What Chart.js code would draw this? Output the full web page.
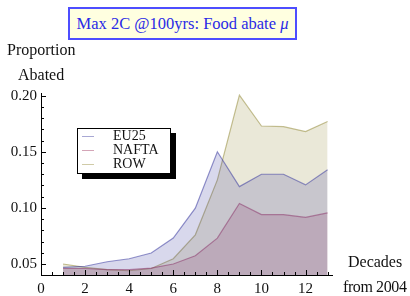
<!DOCTYPE html>
<html>
<head>
<meta charset="utf-8">
<script src="https://cdn.jsdelivr.net/npm/chart.js@4"></script>
<style>
  body { margin: 0; background: #fff; }
  #wrap { position: relative; width: 410px; height: 296px; font-family: "Liberation Serif", serif; color: #111; }
  #titre { position: absolute; left: 68px; top: 7px; width: 225px; height: 29px; border: 2px solid #4d4dff;
           background: #ffffe0; color: #2a2ae6; font-size: 16.5px; line-height: 29px; text-align: center; }
  .lab { position: absolute; font-size: 16px; line-height: 18px; white-space: nowrap; }
  #legende { position: absolute; left: 77px; top: 128px; width: 92px; height: 44px; border: 1px solid #000;
             background: #fff; box-shadow: 5px 5px 0 #000; font-size: 14px; }
  #legende div { position: relative; height: 14px; line-height: 14px; padding-left: 35px; }
  #legende span { position: absolute; left: 4px; top: 7px; width: 12px; height: 1px; }
</style>
</head>
<body>
<div id="wrap">
  <canvas id="graphe" width="410" height="296"></canvas>
  <div id="titre">Max 2C @100yrs: Food abate <i>μ</i></div>
  <div class="lab" style="left:7px;top:41px;">Proportion</div>
  <div class="lab" style="left:18px;top:66px;">Abated</div>
  <div class="lab" style="left:348px;top:253px;">Decades</div>
  <div class="lab" style="left:343px;top:278px;letter-spacing:-0.4px;">from 2004</div>
  <div id="legende"></div>
</div>
<script>
"use strict";
var decennies = [1, 2, 3, 4, 5, 6, 7, 8, 9, 10, 11, 12, 13];
var eu25  = [0.047, 0.048, 0.052, 0.0547, 0.0598, 0.0731, 0.0998, 0.150, 0.119, 0.130, 0.130, 0.1205, 0.134];
var nafta = [0.046, 0.046, 0.045, 0.045, 0.0464, 0.050, 0.0574, 0.073, 0.104, 0.094, 0.094, 0.0915, 0.0955];
var row   = [0.050, 0.047, 0.045, 0.044, 0.046, 0.0547, 0.076, 0.125, 0.2005, 0.173, 0.1724, 0.168, 0.177];
var noms = ["EU25", "NAFTA", "ROW"];
var xTicks = [0, 2, 4, 6, 8, 10, 12];
var yTicks = [0.05, 0.10, 0.15, 0.20];

var couleurs = [[61, 61, 160], [160, 55, 95], [150, 140, 60]];
var series = [eu25, nafta, row];

function rgba(c, a) {
    return 'rgba(' + c[0] + ',' + c[1] + ',' + c[2] + ',' + a + ')';
}

var datasets = [];
for (var i = 0; i < series.length; i++) {
    var pts = [];
    for (var j = 0; j < decennies.length; j++) {
        pts.push({x: decennies[j], y: series[i][j]});
    }
    datasets.push({
        label: noms[i],
        data: pts,
        borderColor: rgba(couleurs[i], 0.55),
        backgroundColor: rgba(couleurs[i], 0.2),
        borderWidth: 1.2,
        pointRadius: 0,
        fill: 'start',
        tension: 0
    });
}

// legende en html
var leg = document.getElementById("legende");
for (var k = 0; k < noms.length; k++) {
    var ligne = document.createElement("div");
    ligne.innerHTML = '<span style="background:' + rgba(couleurs[k], 0.45) + '"></span>' + noms[k];
    leg.appendChild(ligne);
}

// petites graduations vers l'interieur, facon Mathematica
var graduations = {
    id: 'graduations',
    afterDraw: function (chart) {
        var ctx = chart.ctx;
        var xs = chart.scales.x, ys = chart.scales.y;
        var x0 = xs.getPixelForValue(0), yb = ys.bottom;
        ctx.save();
        ctx.strokeStyle = '#000';
        ctx.lineWidth = 1;
        ctx.beginPath();
        for (var v = 0.5; v <= 13.01; v += 0.5) {
            var px = Math.round(xs.getPixelForValue(v)) + 0.5;
            var len = (Math.abs(v % 2) < 0.01) ? 5 : 3;
            ctx.moveTo(px, yb);
            ctx.lineTo(px, yb - len);
        }
        for (var w = 5; w <= 20; w++) {
            var py = Math.round(ys.getPixelForValue(w / 100)) + 0.5;
            var l2 = (w % 5 === 0) ? 5 : 3;
            ctx.moveTo(x0, py);
            ctx.lineTo(x0 + l2, py);
        }
        ctx.stroke();
        ctx.restore();
    }
};

new Chart(document.getElementById("graphe").getContext("2d"), {
    type: 'line',
    data: { datasets: datasets },
    options: {
        responsive: false,
        animation: false,
        layout: { padding: { top: 93, right: 78, left: 0, bottom: 0 } },
        plugins: { legend: { display: false }, tooltip: { enabled: false } },
        scales: {
            x: {
                type: 'linear',
                min: 0,
                max: 13.2,
                afterFit: function (s) { s.height = 21; },
                afterBuildTicks: function (s) { s.ticks = xTicks.map(function (v) { return {value: v}; }); },
                grid: { drawOnChartArea: false, drawTicks: false },
                border: { color: '#000', width: 1 },
                ticks: {
                    padding: 5,
                    color: '#111',
                    font: { family: 'Liberation Serif', size: 15 },
                    maxRotation: 0,
                    callback: function (v) { return v; }
                }
            },
            y: {
                type: 'linear',
                min: 0.0402,
                max: 0.2024,
                afterFit: function (s) { s.width = 41; },
                afterBuildTicks: function (s) { s.ticks = yTicks.map(function (v) { return {value: v}; }); },
                grid: { drawOnChartArea: false, drawTicks: false },
                border: { color: '#000', width: 1 },
                ticks: {
                    padding: 4,
                    color: '#111',
                    font: { family: 'Liberation Serif', size: 15 },
                    callback: function (v) { return v.toFixed(2); }
                }
            }
        }
    },
    plugins: [graduations]
});
</script>
</body>
</html>
